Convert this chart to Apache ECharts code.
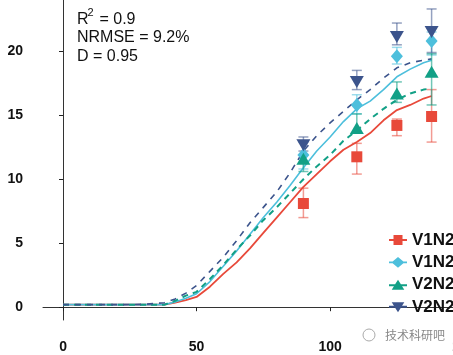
<!DOCTYPE html>
<html>
<head>
<meta charset="utf-8">
<script src="https://cdn.jsdelivr.net/npm/echarts@6/dist/echarts.min.js"></script>
<style>html,body{margin:0;padding:0;background:#fff}#c{width:453px;height:355px}</style>
</head>
<body>
<div id="c"></div>
<script>
// ---- data ----
const simDays = [0,10,20,30,38,42,46,50,55,60,65,70,75,80,85,90,95,100,105,110,115,120,125,130,135,138];
const simV1N2a = [0.2,0.2,0.2,0.2,0.2,0.35,0.55,0.8,1.6,2.6,3.5,4.6,5.8,7.0,8.2,9.4,10.4,11.4,12.3,12.9,13.6,14.6,15.4,15.8,16.3,16.5];
const simV1N2b = [0.2,0.2,0.2,0.2,0.2,0.4,0.7,1.05,2.0,3.2,4.4,5.7,7.0,8.2,9.5,10.9,12.2,13.3,14.5,15.5,16.1,17.0,18.0,18.6,19.1,19.3];
const simV2N2a = [0.2,0.2,0.2,0.2,0.2,0.5,0.9,1.2,2.2,3.3,4.5,5.6,6.8,7.8,8.9,10.0,11.0,11.9,13.0,13.8,14.7,15.5,16.2,16.7,17.0,17.1];
const simV2N2b = [0.2,0.2,0.2,0.22,0.35,0.65,1.1,1.7,2.8,3.9,5.2,6.6,7.8,9.0,10.5,12.2,13.4,14.4,15.3,16.2,17.0,17.9,18.7,19.1,19.3,19.4];

const obsDays = [90,110,125,138];
const obsV1N2a = [8.1,11.75,14.2,14.9];
const lowV1N2a = [7.0,10.4,13.4,12.9];
const highV1N2a = [9.3,12.8,14.7,17.0];
const obsV1N2b = [11.9,15.8,19.6,20.8];
const lowV1N2b = [10.8,15.1,19.0,19.7];
const highV1N2b = [12.9,16.6,20.3,21.5];
const obsV2N2a = [11.6,14.0,16.7,18.4];
const lowV2N2a = [10.6,13.6,16.0,15.8];
const highV2N2a = [13.0,15.1,17.6,19.8];
const obsV2N2b = [12.65,17.6,21.1,21.5];
const lowV2N2b = [12.2,17.0,20.5,19.9];
const highV2N2b = [13.3,18.5,22.2,23.3];

const xTicks = [0,50,100,150];
const yTicks = [0,5,10,15,20];
const legendNames = ['V1N2','V1N2\u200b','V2N2','V2N2\u200b'];

// ---- styling ----
const colors = ['#E8493A','#4DBFDC','#12A086','#3C548C'];
const errColors = ['rgba(232,73,58,0.55)','rgba(77,191,220,0.55)','rgba(18,160,134,0.6)','rgba(60,84,140,0.55)'];
const FONT = '"Liberation Sans", Arial, sans-serif';

const pair = (xs, ys) => xs.map((x,i)=>[x, ys[i]]);
const errData = (lo, hi) => obsDays.map((d,i)=>[d, lo[i], hi[i]]);

function errRender(color){
  return function(params, api){
    const x = api.value(0), lo = api.value(1), hi = api.value(2);
    const a = api.coord([x, lo]), b = api.coord([x, hi]);
    const w = 5;
    const st = {stroke: color, lineWidth: 1.5, fill: null};
    return {type:'group', children:[
      {type:'line', shape:{x1:a[0], y1:a[1], x2:b[0], y2:b[1]}, style: st},
      {type:'line', shape:{x1:a[0]-w, y1:a[1], x2:a[0]+w, y2:a[1]}, style: st},
      {type:'line', shape:{x1:b[0]-w, y1:b[1], x2:b[0]+w, y2:b[1]}, style: st}
    ]};
  };
}

const sims = [simV1N2a, simV1N2b, simV2N2a, simV2N2b];
const lineTypes = ['solid','solid',[6,5],[6,6]];
const lineWidths = [1.8,1.6,2,1.6];
const obs = [obsV1N2a, obsV1N2b, obsV2N2a, obsV2N2b];
const lows = [lowV1N2a, lowV1N2b, lowV2N2a, lowV2N2b];
const highs = [highV1N2a, highV1N2b, highV2N2a, highV2N2b];
const symbols = ['rect','diamond','triangle','triangle'];
const symSizes = [11,[12,14],[14,12],[14,12]];
const symRot = [0,0,0,180];

const series = [];
for (let i=0;i<4;i++){
  series.push({type:'line', name:'sim'+i, data: pair(simDays, sims[i]), showSymbol:false, symbol:'none',
    lineStyle:{color:colors[i], width:lineWidths[i], type:lineTypes[i]}, z:2, silent:true});
}
for (let i=0;i<4;i++){
  series.push({type:'custom', name:'err'+i, data: errData(lows[i], highs[i]), renderItem: errRender(errColors[i]), z:3, silent:true});
}
for (let i=0;i<4;i++){
  series.push({type:'scatter', name: legendNames[i], data: pair(obsDays, obs[i]), symbol: symbols[i],
    symbolSize: symSizes[i], symbolRotate: symRot[i], itemStyle:{color:colors[i], opacity:1}, z:4+i});
}

const icons = [
  'path://M0,5H5V0.5H15V5H20V7H15V11.5H5V7H0Z',
  'path://M0,5H4L10,0L16,5H20V7H16L10,12L4,7H0Z',
  'path://M0,5H6.8L10,0L13.2,5H20V7H14.5L17,11H3L5.5,7H0Z',
  'path://M0,5H5.5L3,1H17L14.5,5H20V7H13.2L10,12L6.8,7H0Z'
];

const chart = echarts.init(document.getElementById('c'), null, {renderer:'canvas'});
chart.setOption({
  animation:false,
  backgroundColor:'#fff',
  grid:{left:43, top:0, width:434, height:320, containLabel:false, outerBoundsMode:'none'},
  xAxis:{type:'value', min:-7.5, max:155,
    axisLine:{show:true, lineStyle:{color:'#333', width:1}},
    axisTick:{show:true, length:4, lineStyle:{color:'#222'}, customValues: xTicks},
    axisLabel:{customValues: xTicks, margin:20, fontFamily:FONT, fontWeight:'bold', fontSize:14, color:'#111'},
    splitLine:{show:false}},
  yAxis:{type:'value', min:-1, max:24,
    axisLine:{show:true, lineStyle:{color:'#333', width:1}},
    axisTick:{show:true, length:4, lineStyle:{color:'#222'}, customValues: yTicks},
    axisLabel:{customValues: yTicks, margin:20, fontFamily:FONT, fontWeight:'bold', fontSize:14, color:'#111'},
    splitLine:{show:false}},
  legend:{orient:'vertical', left:389, top:231.5, itemWidth:18, itemHeight:12, itemGap:5.4, padding:0,
    data: legendNames.map((n,i)=>({name:n, icon: icons[i]})),
    textStyle:{fontFamily:FONT, fontWeight:'bold', fontSize:17, color:'#111'},
    selectedMode:false},
  graphic:[
    {type:'text', x:77, y:19.5, style:{text:'R', font:'16px '+FONT, fill:'#111', verticalAlign:'middle'}},
    {type:'text', x:87.5, y:13, style:{text:'2', font:'11px '+FONT, fill:'#111', verticalAlign:'middle'}},
    {type:'text', x:95, y:19.5, style:{text:' = 0.9', font:'16px '+FONT, fill:'#111', verticalAlign:'middle'}},
    {type:'text', x:77, y:37.8, style:{text:'NRMSE = 9.2%', font:'16px '+FONT, fill:'#111', verticalAlign:'middle'}},
    {type:'text', x:77, y:56.2, style:{text:'D = 0.95', font:'16px '+FONT, fill:'#111', verticalAlign:'middle'}},
    {type:'circle', shape:{cx:369, cy:335, r:6}, style:{stroke:'#aaa', fill:null, lineWidth:1}},
    {type:'text', x:385, y:335, style:{text:'技术科研吧', font:'12px "Noto Sans CJK SC", sans-serif', fill:'#888', verticalAlign:'middle'}}
  ],
  series: series
});
</script>
</body>
</html>
